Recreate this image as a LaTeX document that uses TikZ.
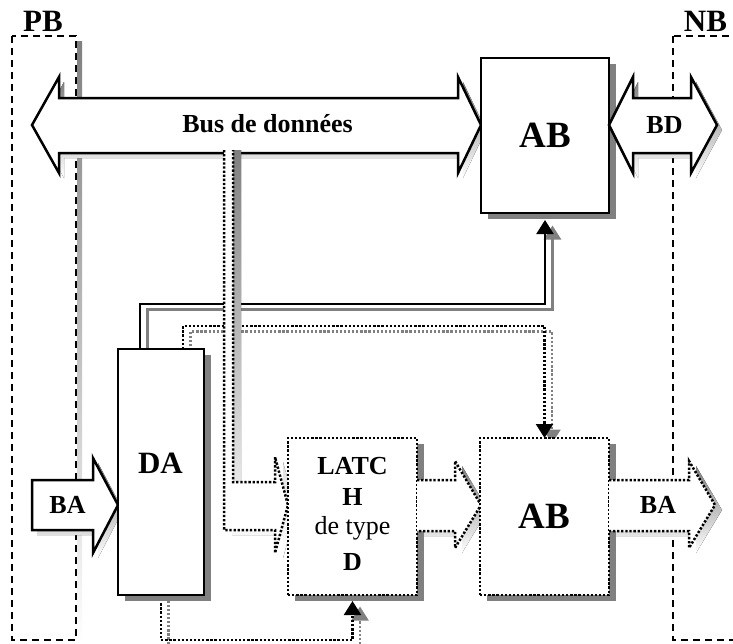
\documentclass[tikz,border=0pt]{standalone}
\usepackage{fontspec}
\setmainfont{Liberation Serif}
\usetikzlibrary{arrows.meta,shadows}
\definecolor{shade}{RGB}{128,128,128}

% outlines of the block arrows
\newcommand\pathBus{(32,125) -- (59,77) -- (59,98) -- (458,98) -- (458,77) -- (481,125) -- (458,173) -- (458,153) -- (59,153) -- (59,173) -- cycle}
\newcommand\pathBD{(609,125) -- (633,77) -- (633,98) -- (691,98) -- (691,77) -- (717,125) -- (691,173) -- (691,153) -- (633,153) -- (633,173) -- cycle}
\newcommand\pathBAin{(32,480) -- (93,480) -- (93,458) -- (118,505) -- (93,553) -- (93,530) -- (32,530) -- cycle}
\newcommand\pathTap{(224,150) -- (224,530) -- (275,530) -- (275,553) -- (288,505) -- (275,457) -- (275,482) -- (233,482) -- (233,150)}
\newcommand\pathTapShade{(232,150) -- (232,535) -- (283,535) -- (283,558) -- (296,510) -- (283,462) -- (283,487) -- (241,487) -- (241,150) -- cycle}
\newcommand\pathLA{(417,480) -- (455,480) -- (455,461) -- (481,505) -- (455,548) -- (455,531) -- (417,531)}
\newcommand\pathBAout{(609,480) -- (689,480) -- (689,461) -- (715,505) -- (689,548) -- (689,531) -- (609,531)}

\tikzset{
  outl/.style={line width=2.5pt, line join=miter},
  dotl/.style={line width=2.5pt, dash pattern=on 2.3pt off 1.8pt},
  dashl/.style={line width=2.5pt, dash pattern=on 7pt off 5pt},
  blockbox/.style={draw, line width=2.5pt, fill=white, inner sep=0pt, outer sep=0pt,
    drop shadow={shadow xshift=7pt, shadow yshift=-6pt, fill=shade, opacity=1}},
  dotbox/.style={blockbox, dash pattern=on 2.3pt off 1.8pt},
  link/.style={line width=2.3pt, -{Triangle[width=17pt,length=14pt]}},
  dotlink/.style={link, dash pattern=on 2.3pt off 1.8pt},
  shadowed/.style={draw=shade, transform canvas={xshift=7.5pt, yshift=-5.5pt}},
  big/.style={font=\fontsize{37}{37}\selectfont\bfseries},
  mid/.style={font=\fontsize{31}{31}\selectfont\bfseries, inner sep=0pt},
  lab/.style={font=\fontsize{26}{26}\selectfont\bfseries, inner sep=0pt, anchor=base},
  labr/.style={font=\fontsize{26}{26}\selectfont, inner sep=0pt, anchor=base},
}

\begin{document}
\begin{tikzpicture}[x=1pt, y=-1pt]
\useasboundingbox (0,0) rectangle (733,643);
\clip (0,0) rectangle (733,643);

% PB and NB frames
\fill[shade] (77,41) rectangle (82,643);
\draw[dashl] (12,36) rectangle (76,640);
\draw[dashl] (673,36) rectangle (745,640);
\node[mid, anchor=base] (pb) at (43,31) {PB};
\node[mid, anchor=base] (nb) at (705.5,31) {NB};

% data bus
\fill[shade, shift={(5,5)}] \pathBus;
\draw[outl, fill=white] \pathBus;
\node[lab] (busl) at (267.5,132) {Bus de données};

% node positions (boxes are drawn further down)
\path (161,472) coordinate (DAc) (545,135.5) coordinate (ABtc)
      (352.5,516.5) coordinate (LTc) (544.5,516.5) coordinate (ABbc);

% box outlines used as anchors for the connectors
\node[minimum width=86pt, minimum height=246pt, inner sep=0pt, outer sep=0pt] (DA) at (DAc) {};
\node[minimum width=128pt, minimum height=155pt, inner sep=0pt, outer sep=0pt] (ABt) at (ABtc) {};
\node[minimum width=129pt, minimum height=157pt, inner sep=0pt, outer sep=0pt] (LT) at (LTc) {};
\node[minimum width=129pt, minimum height=157pt, inner sep=0pt, outer sep=0pt] (ABb) at (ABbc) {};

% control connectors and their shadows
\draw[link, shadowed] ([xshift=22pt]DA.north west) |- ([yshift=-91pt]ABt.south) -- ([yshift=-7pt]ABt.south);
\draw[link] ([xshift=22pt]DA.north west) |- ([yshift=-91pt]ABt.south) -- ([yshift=-7pt]ABt.south);
\draw[dotlink, shadowed] ([xshift=65pt]DA.north west) |- ([yshift=112pt]ABb.north) -- (ABb.north);
\draw[dotlink] ([xshift=65pt]DA.north west) |- ([yshift=112pt]ABb.north) -- (ABb.north);
\draw[dotlink, shadowed] ([xshift=43pt]DA.south west) |- ([yshift=-45pt]LT.south) -- ([yshift=-6pt]LT.south);
\draw[dotlink] ([xshift=43pt]DA.south west) |- ([yshift=-45pt]LT.south) -- ([yshift=-6pt]LT.south);

% address bus input
\fill[shade, shift={(5,5)}] \pathBAin;
\draw[outl, fill=white] \pathBAin;

% tap from the data bus to the latch
\fill[shade] \pathTapShade;
\fill[white] \pathTap -- cycle;
\draw[dotl] \pathTap;

% blocks
\node[blockbox, minimum width=86pt, minimum height=246pt] (DAbox) at (DAc) {};
\node[mid, anchor=base] (dal) at (160.5,473) {DA};
\node[blockbox, big, minimum width=128pt, minimum height=155pt] (ABtbox) at (ABtc) {AB};

% BD bus
\fill[shade, shift={(5,5)}] \pathBD;
\draw[outl, fill=white] \pathBD;
\node[lab] (bdl) at (664.5,133) {BD};
\node[lab] (bal) at (67.5,513) {BA};

% latch
\node[dotbox, minimum width=129pt, minimum height=157pt] (LTbox) at (LTc) {};
\node[lab] (lt1) at (352.5,474) {LATC};
\node[lab] (lt2) at (352.5,505) {H};
\node[labr] (lt3) at (352.5,534) {de type};
\node[lab] (lt4) at (352.5,570) {D};

% latch to buffer
\fill[shade, shift={(7,5)}] \pathLA -- cycle;
\fill[white] \pathLA -- cycle;
\draw[dotl] \pathLA;

\node[dotbox, big, minimum width=129pt, minimum height=157pt] (ABbbox) at (ABbc) {AB};

% address bus output
\fill[shade, shift={(7,5)}] \pathBAout -- cycle;
\fill[white] \pathBAout -- cycle;
\draw[dotl] \pathBAout;
\node[lab] (bar) at (658,513) {BA};
\end{tikzpicture}
\end{document}
